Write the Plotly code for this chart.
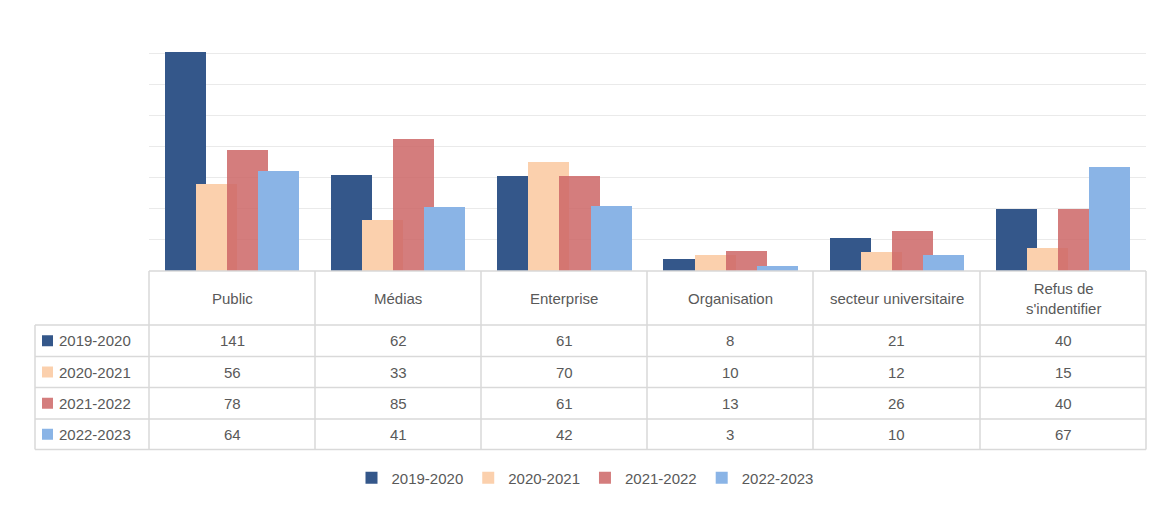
import plotly.graph_objects as go

categories = ["Public", "Médias", "Enterprise", "Organisation", "secteur universitaire", "Refus de<br>s'indentifier"]
series_names = ["2019-2020", "2020-2021", "2021-2022", "2022-2023"]
values = [
    [141, 62, 61, 8, 21, 40],
    [56, 33, 70, 10, 12, 15],
    [78, 85, 61, 13, 26, 40],
    [64, 41, 42, 3, 10, 67],
]
colors = ["#34578A", "#FBD0AD", "rgba(205,102,102,0.85)", "#8AB4E6"]

W, H = 1170, 510
SHIFT = 8  # page body margin


def px(x):
    return (x - SHIFT) / W


def py(y):
    return 1 - (y - SHIFT) / H


col_edges = [149, 315, 481, 647, 813, 980, 1146]
row_edges = [271, 325, 356.5, 387.5, 419, 449.5]
label_left = 35
font = "Liberation Sans"
txt = "#595959"
grid = "#D9D9D9"

fig = go.Figure()
offsets = [-0.404, -0.217, -0.030, 0.157]
for i, name in enumerate(series_names):
    fig.add_trace(go.Bar(
        x=list(range(len(categories))), y=values[i], name=name,
        marker=dict(color=colors[i], line=dict(width=0)),
        width=0.247, offset=offsets[i],
    ))

shapes = []
# table grid
for x in col_edges:
    shapes.append(dict(type="line", xref="paper", yref="paper",
                       x0=px(x), x1=px(x), y0=py(row_edges[0]), y1=py(row_edges[-1]),
                       line=dict(color=grid, width=1.5)))
shapes.append(dict(type="line", xref="paper", yref="paper", x0=px(label_left), x1=px(label_left),
                   y0=py(row_edges[1]), y1=py(row_edges[-1]), line=dict(color=grid, width=1.5)))
shapes.append(dict(type="line", xref="paper", yref="paper", x0=px(149), x1=px(1146),
                   y0=py(row_edges[0]), y1=py(row_edges[0]), line=dict(color=grid, width=1.5)))
for y in row_edges[1:]:
    shapes.append(dict(type="line", xref="paper", yref="paper", x0=px(label_left), x1=px(1146),
                       y0=py(y), y1=py(y), line=dict(color=grid, width=1.5)))

annotations = []
for j, cat in enumerate(categories):
    cx = (col_edges[j] + col_edges[j + 1]) / 2
    annotations.append(dict(text=cat, x=px(cx), y=py((row_edges[0] + row_edges[1]) / 2),
                            xref="paper", yref="paper", showarrow=False,
                            xanchor="center", yanchor="middle",
                            font=dict(size=15, color=txt, family=font)))
    for i in range(len(series_names)):
        cy = (row_edges[i + 1] + row_edges[i + 2]) / 2
        annotations.append(dict(text=str(values[i][j]), x=px(cx), y=py(cy),
                                xref="paper", yref="paper", showarrow=False,
                                xanchor="center", yanchor="middle",
                                font=dict(size=15, color=txt, family=font)))
for i, name in enumerate(series_names):
    cy = (row_edges[i + 1] + row_edges[i + 2]) / 2
    shapes.append(dict(type="rect", xref="paper", yref="paper", x0=px(42), x1=px(53),
                       y0=py(cy + 5.5), y1=py(cy - 5.5), fillcolor=colors[i], line=dict(width=0)))
    annotations.append(dict(text=name, x=px(57), y=py(cy), xanchor="left", yanchor="middle",
                            xref="paper", yref="paper", showarrow=False,
                            font=dict(size=15, color=txt, family=font)))

fig.update_layout(
    width=W, height=H, margin=dict(l=0, r=0, t=0, b=0),
    plot_bgcolor="white", paper_bgcolor="white",
    barmode="overlay", bargap=0,
    shapes=shapes, annotations=annotations,
    legend=dict(orientation="h", x=px(585), xanchor="center", y=py(478), yanchor="middle",
                font=dict(size=15, color=txt, family=font), itemwidth=30),
    xaxis=dict(domain=[px(149), px(1146)], range=[-0.5, 5.5], showticklabels=False,
               showgrid=False, zeroline=False, fixedrange=True),
    yaxis=dict(domain=[py(271), py(22)], range=[0, 160], dtick=20, showticklabels=False,
               showgrid=True, gridcolor="#EAEAEA", zeroline=False, fixedrange=True),
)

fig.write_html("out.html")
